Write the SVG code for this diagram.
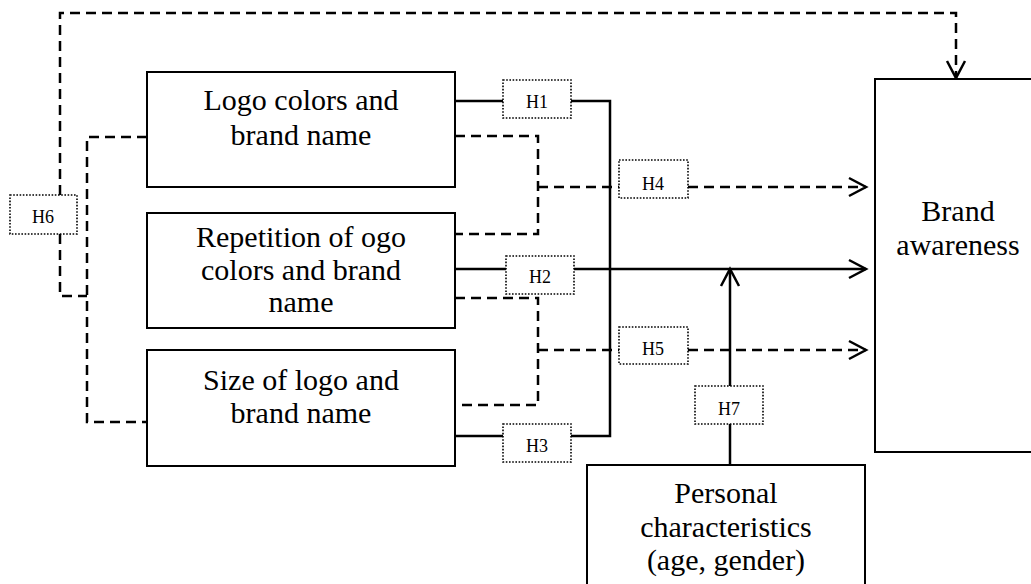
<svg xmlns="http://www.w3.org/2000/svg" width="1031" height="584" viewBox="0 0 1031 584">
<style>
.box{fill:#fff;stroke:#000;stroke-width:2}
.hbox{fill:#fff;stroke:#000;stroke-width:1.6;stroke-dasharray:1.6 1.6}
.t{font-family:"Liberation Serif","Times New Roman",serif;font-size:30px;fill:#000;text-anchor:middle}
.h{font-family:"Liberation Serif","Times New Roman",serif;font-size:18px;fill:#000;text-anchor:middle}
.sol{fill:none;stroke:#000;stroke-width:2.5}
.dsh{fill:none;stroke:#000;stroke-width:2.5;stroke-dasharray:10 6}
</style>
<defs>
<marker id="arr" markerUnits="userSpaceOnUse" markerWidth="40" markerHeight="40" refX="0" refY="0" orient="auto" overflow="visible">
<path d="M-17,-9 L0,0 L-17,9" fill="none" stroke="#000" stroke-width="2.5" stroke-dasharray="none"/>
</marker>
</defs>
<g id="connectors">
<path class="dsh" d="M60,195 V13 H956 V78" marker-end="url(#arr)"/>
<path class="dsh" d="M60,234 V296 H87"/>
<path class="dsh" d="M147,137 H87 V422 H147"/>
<path class="sol" d="M455,101 H503"/>
<path class="sol" d="M571,101 H610 V436 H571"/>
<path class="sol" d="M455,436 H503"/>
<path class="sol" d="M455,269 H506"/>
<path class="sol" d="M574,269 H866" marker-end="url(#arr)"/>
<path class="dsh" d="M455,136 H538 V234 H455"/>
<path class="dsh" d="M538,187 H619"/>
<path class="dsh" d="M688,187 H866" marker-end="url(#arr)"/>
<path class="dsh" d="M455,298 H538 V405 H455"/>
<path class="dsh" d="M538,350 H619"/>
<path class="dsh" d="M688,350 H866" marker-end="url(#arr)"/>
<path class="sol" d="M730,465 V424"/>
<path class="sol" d="M730,386 V269" marker-end="url(#arr)"/>
</g>
<g id="logo">
<rect class="box" x="147" y="72" width="308" height="115"/>
<text class="t" x="301" y="110">Logo colors and</text>
<text class="t" x="301" y="145">brand name</text>
</g>
<g id="repetition">
<rect class="box" x="147" y="213" width="308" height="115"/>
<text class="t" x="301" y="247">Repetition of ogo</text>
<text class="t" x="301" y="280">colors and brand</text>
<text class="t" x="301" y="312">name</text>
</g>
<g id="size">
<rect class="box" x="147" y="350" width="308" height="116"/>
<text class="t" x="301" y="390">Size of logo and</text>
<text class="t" x="301" y="423">brand name</text>
</g>
<g id="awareness">
<rect class="box" x="875" y="79" width="170" height="373"/>
<text class="t" x="958" y="221">Brand</text>
<text class="t" x="958" y="255">awareness</text>
</g>
<g id="personal">
<rect class="box" x="587" y="465" width="278" height="130"/>
<text class="t" x="726" y="503">Personal</text>
<text class="t" x="726" y="537">characteristics</text>
<text class="t" x="726" y="570">(age, gender)</text>
</g>
<g id="h1"><rect class="hbox" x="503" y="80" width="68" height="38"/><text class="h" x="537" y="108">H1</text></g>
<g id="h2"><rect class="hbox" x="506" y="256" width="68" height="38"/><text class="h" x="540" y="283">H2</text></g>
<g id="h3"><rect class="hbox" x="503" y="424" width="68" height="38"/><text class="h" x="537" y="452">H3</text></g>
<g id="h4"><rect class="hbox" x="619" y="160" width="69" height="38"/><text class="h" x="653" y="190">H4</text></g>
<g id="h5"><rect class="hbox" x="619" y="327" width="69" height="37"/><text class="h" x="653" y="355">H5</text></g>
<g id="h6"><rect class="hbox" x="10" y="195" width="67" height="39"/><text class="h" x="43" y="223">H6</text></g>
<g id="h7"><rect class="hbox" x="695" y="386" width="68" height="38"/><text class="h" x="729" y="415">H7</text></g>
</svg>
